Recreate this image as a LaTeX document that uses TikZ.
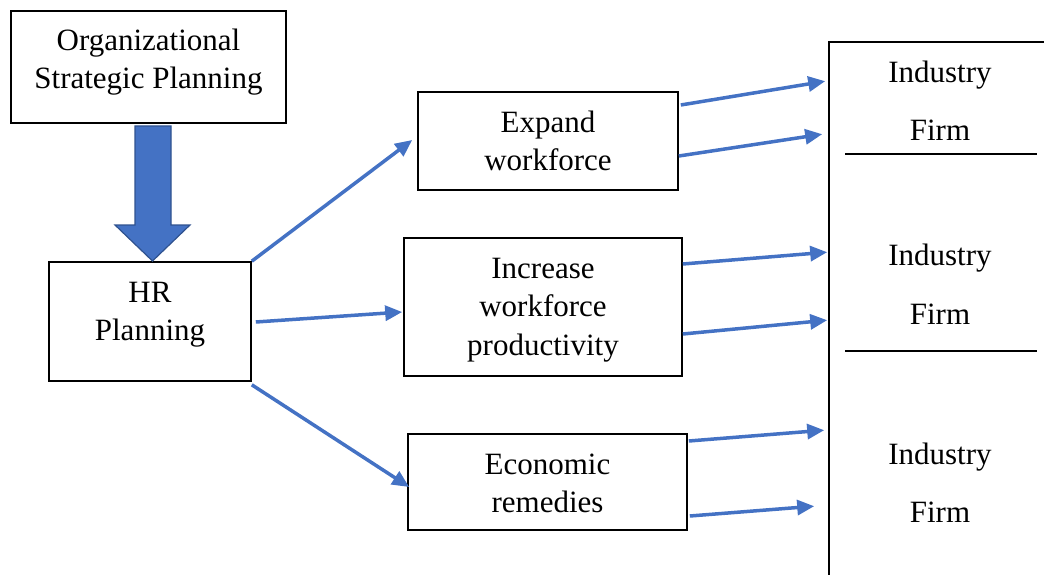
\documentclass[tikz,border=0pt]{standalone}
\usepackage{fontspec}
\setmainfont{Liberation Serif}
\usetikzlibrary{arrows.meta,calc}
\definecolor{arrblue}{HTML}{4472C4}
\definecolor{arrdark}{HTML}{2F528F}
\begin{document}
\begin{tikzpicture}[x=1pt,y=-1pt,
  box/.style={draw=black, line width=1.6pt, inner sep=0pt, fill=white},
  txt/.style={align=center, font=\fontsize{31}{38.5}\selectfont, inner sep=0pt},
  conn/.style={draw=arrblue, line width=3.5pt, -{Triangle[length=17pt,width=15pt]}},
  sep/.style={draw=black, line width=1.6pt},
]
\useasboundingbox (0,0) rectangle (1044,575);
% boxes
\node[box, minimum width=275pt, minimum height=112pt] (org) at (148.5,67) {};
\node[txt] (orgT) at (148.5,62) {Organizational\\Strategic Planning};
\node[box, minimum width=202pt, minimum height=119pt] (hr) at (150,321.5) {};
\node[txt] (hrT) at (150,314.5) {HR\\Planning};
\node[box, minimum width=260pt, minimum height=98pt] (exp) at (548,141) {};
\node[txt] (expT) at (548,141) {Expand\\workforce};
\node[box, minimum width=278pt, minimum height=138pt] (inc) at (543,307) {};
\node[txt] (incT) at (543,310) {Increase\\workforce\\productivity};
\node[box, minimum width=279pt, minimum height=96pt] (eco) at (547.5,482) {};
\node[txt] (ecoT) at (547.5,483.5) {Economic\\remedies};
\node[box, minimum width=231pt, minimum height=558pt] (rb) at (944.5,321) {};
% right box texts
\node[txt, anchor=base] (ind1) at (940,83) {Industry};
\node[txt, anchor=base] (firm1) at (940,141) {Firm};
\node[txt, anchor=base] (ind2) at (940,265) {Industry};
\node[txt, anchor=base] (firm2) at (940,324) {Firm};
\node[txt, anchor=base] (ind3) at (940,464) {Industry};
\node[txt, anchor=base] (firm3) at (940,522) {Firm};
% separators
\coordinate (s1a) at (845,154); \coordinate (s1b) at (1037,154);
\coordinate (s2a) at (845,351); \coordinate (s2b) at (1037,351);
\draw[sep] (s1a) -- (s1b);
\draw[sep] (s2a) -- (s2b);
% big block arrow
\filldraw[fill=arrblue, draw=arrdark, line width=1.2pt, line join=miter]
  (135,126) -- (171,126) -- (171,225) -- (190,225) -- (152.5,261) -- (115,225) -- (135,225) -- cycle;
% connectors
\draw[conn] (hr.north east) -- ($(exp.west)+(-5,-1)$);
\draw[conn] ($(hr.east)+(4,0.5)$) -- ($(inc.west)+(-1,5)$);
\draw[conn] ($(hr.south east)+(0,3)$) -- ($(eco.west)+(2,5)$);
\draw[conn] ($(exp.east)+(2,-36)$) -- ($(rb.north west)+(-3,40)$);
\draw[conn] ($(exp.east)+(0,15)$) -- ($(rb.north west)+(-6,93)$);
\draw[conn] ($(inc.east)+(0,-43)$) -- ($(rb.north west)+(-1,211)$);
\draw[conn] ($(inc.east)+(0,27)$) -- ($(rb.north west)+(-1,279)$);
\draw[conn] ($(eco.east)+(1,-41)$) -- ($(rb.north west)+(-4,389)$);
\draw[conn] ($(eco.east)+(2,34)$) -- ($(rb.north west)+(-14,465)$);
\end{tikzpicture}
\end{document}
